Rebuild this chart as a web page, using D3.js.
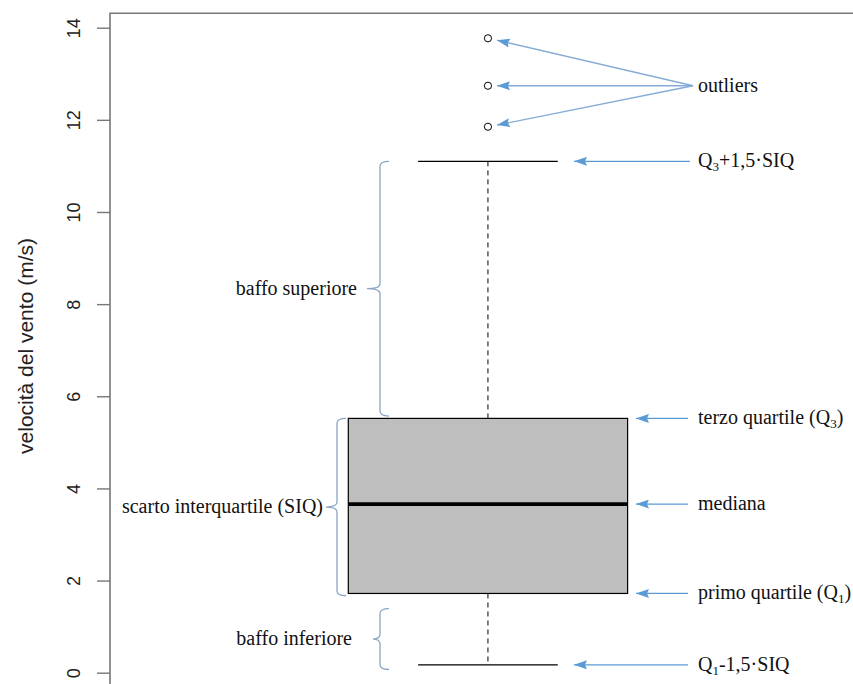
<!DOCTYPE html>
<html>
<head>
<meta charset="utf-8">
<script src="https://cdn.jsdelivr.net/npm/d3@7"></script>
<style>
  body { margin: 0; background: #fff; }
  svg { display: block; }
</style>
</head>
<body>
<svg id="chart"></svg>
<script>
// box statistics (m/s)
const stats = { lo: 0.17, q1: 1.72, med: 3.66, q3: 5.52, hi: 11.1 };
const outliers = [13.77, 12.74, 11.85];
const yTicks = [0, 2, 4, 6, 8, 10, 12, 14];

// right-hand annotations: label + value pointed at
const rightNotes = [
  { parts: [["Q", 0], ["3", 1], ["+1,5·SIQ", 0]], value: stats.hi,  from: 690, to: 574 },
  { parts: [["terzo quartile (Q", 0], ["3", 1], [")", 0]], value: stats.q3, from: 688, to: 636 },
  { parts: [["mediana", 0]], value: stats.med, from: 688, to: 636 },
  { parts: [["primo quartile (Q", 0], ["1", 1], [")", 0]], value: stats.q1, from: 688, to: 636 },
  { parts: [["Q", 0], ["1", 1], ["-1,5·SIQ", 0]], value: stats.lo, from: 688, to: 574 }
];

// left braces (value ranges)
const braces = [
  { label: "baffo superiore", from: stats.q3 + 0.05, to: stats.hi, x: 380, depth: 13, textEnd: 357 },
  { label: "scarto interquartile (SIQ)", from: stats.q1 - 0.05, to: stats.q3, x: 337, depth: 11, textEnd: 323 },
  { label: "baffo inferiore", from: stats.lo - 0.1, to: stats.q1 - 0.33, x: 380, depth: 7, textEnd: 352 }
];

const W = 853, H = 684;
const svg = d3.select("#chart").attr("width", W).attr("height", H);

const y = d3.scaleLinear().domain([0, 14]).range([672.7, 27.7]);
const x = d3.scaleLinear().domain([0.6, 1.4]).range([348.3, 627.6]);

const axisCol = "#777";
const blue = "#5b9bd5";
const serif = "'Liberation Serif', 'Times New Roman', serif";
const fs = 20;

// frame (top + left)
svg.append("path")
  .attr("d", `M${W},13.3H110V${H}`)
  .attr("fill", "none")
  .attr("stroke", axisCol)
  .attr("stroke-width", 1.6);

// y axis
const yAxis = svg.append("g")
  .attr("transform", "translate(110,0)")
  .call(d3.axisLeft(y).tickValues(yTicks).tickSize(13))
  .call(g => g.select(".domain").remove());
yAxis.selectAll(".tick line").attr("stroke", axisCol).attr("stroke-width", 1.4);
yAxis.selectAll(".tick text")
  .attr("font-family", "'Liberation Sans', Arial, sans-serif")
  .attr("font-size", 18)
  .attr("fill", "#222")
  .attr("transform", "rotate(-90)")
  .attr("text-anchor", "middle")
  .attr("x", 0)
  .attr("y", -30)
  .attr("dy", null);

svg.append("text")
  .attr("transform", `translate(33,346) rotate(-90)`)
  .attr("text-anchor", "middle")
  .attr("font-family", "'Liberation Sans', Arial, sans-serif")
  .attr("font-size", 21)
  .attr("fill", "#222")
  .text("velocità del vento (m/s)");

// whiskers (dashed)
svg.append("line")
  .attr("x1", x(1)).attr("x2", x(1))
  .attr("y1", y(stats.q3)).attr("y2", y(stats.hi))
  .attr("stroke", "#000").attr("stroke-dasharray", "5,4");
svg.append("line")
  .attr("x1", x(1)).attr("x2", x(1))
  .attr("y1", y(stats.q1)).attr("y2", y(stats.lo))
  .attr("stroke", "#000").attr("stroke-dasharray", "5,4");

// staples
[stats.hi, stats.lo].forEach(v => {
  svg.append("line")
    .attr("x1", x(0.8)).attr("x2", x(1.2))
    .attr("y1", y(v)).attr("y2", y(v))
    .attr("stroke", "#000").attr("stroke-width", 1.2);
});

// box
svg.append("rect")
  .attr("x", x(0.6)).attr("width", x(1.4) - x(0.6))
  .attr("y", y(stats.q3)).attr("height", y(stats.q1) - y(stats.q3))
  .attr("fill", "#bebebe").attr("stroke", "#000").attr("stroke-width", 1.2);

svg.append("line")
  .attr("x1", x(0.6)).attr("x2", x(1.4))
  .attr("y1", y(stats.med)).attr("y2", y(stats.med))
  .attr("stroke", "#000").attr("stroke-width", 3.6);

// outliers
svg.selectAll(".out").data(outliers).join("circle")
  .attr("cx", x(1)).attr("cy", d => y(d)).attr("r", 3.6)
  .attr("fill", "#fff").attr("stroke", "#000").attr("stroke-width", 1);

// arrowhead (tip at line start)
svg.append("defs").append("marker")
  .attr("id", "ah").attr("viewBox", "0 0 13 9")
  .attr("refX", 0).attr("refY", 4.5)
  .attr("markerWidth", 13).attr("markerHeight", 9)
  .attr("markerUnits", "userSpaceOnUse")
  .attr("orient", "auto")
  .append("path").attr("d", "M0,4.5L13,0L11,4.5L13,9Z").attr("fill", blue);

// outlier arrows
const hub = { x: 693, y: y(12.74) };
svg.selectAll(".oarrow").data(outliers).join("line")
  .attr("x1", x(1) + 9).attr("y1", d => y(d) + (hub.y - y(d)) * 0.04)
  .attr("x2", hub.x).attr("y2", hub.y)
  .attr("stroke", "#85acd6").attr("stroke-width", 1.3)
  .attr("marker-start", "url(#ah)");

svg.append("text")
  .attr("x", 698).attr("y", hub.y + 6)
  .attr("font-family", serif).attr("font-size", fs).attr("fill", "#111")
  .text("outliers");

// right notes
rightNotes.forEach(n => {
  const yy = y(n.value);
  svg.append("line")
    .attr("x1", n.to).attr("x2", n.from)
    .attr("y1", yy).attr("y2", yy)
    .attr("stroke", blue).attr("stroke-width", 1.3)
    .attr("marker-start", "url(#ah)");
  const t = svg.append("text")
    .attr("x", 698).attr("y", yy + 6)
    .attr("font-family", serif).attr("font-size", fs).attr("fill", "#111");
  let sub = false;
  n.parts.forEach(([s, isSub]) => {
    const ts = t.append("tspan").text(s);
    if (isSub && !sub) { ts.attr("dy", 4).attr("font-size", 13); sub = true; }
    else if (!isSub && sub) { ts.attr("dy", -4); sub = false; }
  });
});

// braces
function bracePath(xb, y0, y1, d) {
  const ym = (y0 + y1) / 2, h = 9, r = 5;
  return `M${xb + h},${y0}Q${xb},${y0} ${xb},${y0 + r}` +
    `L${xb},${ym - r}Q${xb},${ym} ${xb - d},${ym}` +
    `Q${xb},${ym} ${xb},${ym + r}` +
    `L${xb},${y1 - r}Q${xb},${y1} ${xb + h},${y1}`;
}
braces.forEach(b => {
  const y0 = y(b.to), y1 = y(b.from);
  svg.append("path")
    .attr("d", bracePath(b.x, y0, y1, b.depth))
    .attr("fill", "none").attr("stroke", "#8aa6c4").attr("stroke-width", 1.3);
  svg.append("text")
    .attr("x", b.textEnd).attr("y", (y0 + y1) / 2 + 6)
    .attr("text-anchor", "end")
    .attr("font-family", serif).attr("font-size", fs).attr("fill", "#111")
    .text(b.label);
});
</script>
</body>
</html>
